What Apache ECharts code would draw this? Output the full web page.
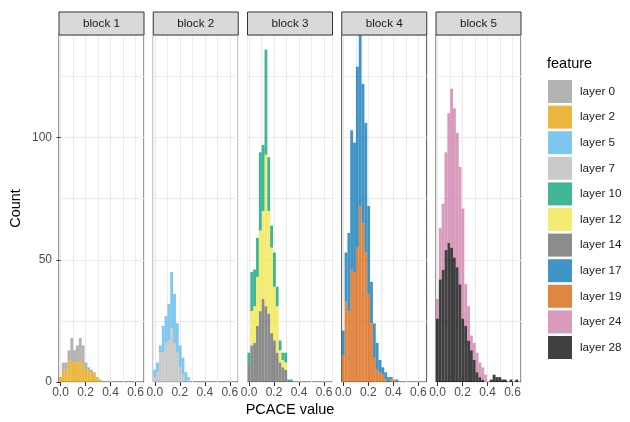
<!DOCTYPE html>
<html>
<head>
<meta charset="utf-8">
<script src="https://cdn.jsdelivr.net/npm/echarts@6/dist/echarts.min.js"></script>
<style>
  html, body { margin: 0; padding: 0; background: #fff; }
  #chart { width: 630px; height: 422px; }
</style>
</head>
<body>
<div id="chart"></div>
<script>
// 30 equal bins across the x range (same bins in every block)
const binCount = 30;
const xMin = -0.012, xMax = 0.668;
const yMax = 142;
const xTicks = [0, 0.2, 0.4, 0.6];
const yTicks = [0, 50, 100];
const blockNames = ['block 1', 'block 2', 'block 3', 'block 4', 'block 5'];

// counts per bin (bars are stacked)
const layer0  = [0, 3, 3, 4, 9, 5, 7, 9, 8, 3, 1, 1, 1, 0, 0];
const layer2  = [2, 5, 5, 9, 9, 8, 8, 9, 7, 5, 5, 4, 3, 2, 1];
const layer5  = [3, 4, 3, 11, 11, 15, 23, 20, 12, 9, 7, 4, 1];
const layer7  = [2, 4, 12, 12, 16, 17, 22, 16, 12, 6, 3, 0, 1];
const layer10 = [4, 16, 15, 16, 32, 27, 43, 22, 9, 14, 8, 4, 3, 4, 0, 1];
const layer12 = [0, 14, 15, 20, 33, 36, 62, 42, 35, 22, 19, 5, 3, 3, 0, 0];
const layer14 = [8, 15, 16, 23, 29, 34, 31, 28, 20, 17, 12, 8, 6, 5, 1, 0];
const layer17 = [10, 20, 32, 57, 53, 74, 70, 57, 53, 36, 17, 14, 11, 5, 3, 3, 2, 1, 0, 1];
const layer19 = [11, 33, 29, 46, 45, 55, 72, 65, 53, 36, 24, 10, 5, 4, 3, 1, 0, 1, 1, 0];
const layer24 = [8, 21, 27, 40, 53, 65, 61, 55, 48, 45, 17, 14, 6, 7, 8, 6, 5, 3];
const layer28 = [26, 42, 46, 54, 57, 55, 51, 47, 40, 26, 23, 17, 13, 9, 4, 2, 1, 0, 0, 1, 3, 2, 2, 1, 1, 0, 1, 0, 1, 0];

// which layers go in which block, bottom of stack first
const blockLayers = [
  [['layer 2', layer2], ['layer 0', layer0]],
  [['layer 7', layer7], ['layer 5', layer5]],
  [['layer 14', layer14], ['layer 12', layer12], ['layer 10', layer10]],
  [['layer 19', layer19], ['layer 17', layer17]],
  [['layer 28', layer28], ['layer 24', layer24]]
];
const legendOrder = ['layer 0', 'layer 2', 'layer 5', 'layer 7', 'layer 10', 'layer 12',
  'layer 14', 'layer 17', 'layer 19', 'layer 24', 'layer 28'];
const colors = {
  'layer 0': 'rgba(153,153,153,0.75)',
  'layer 2': 'rgba(230,159,0,0.75)',
  'layer 5': 'rgba(86,180,233,0.75)',
  'layer 7': 'rgba(184,184,184,0.75)',
  'layer 10': 'rgba(0,158,115,0.75)',
  'layer 12': 'rgba(240,228,66,0.75)',
  'layer 14': 'rgba(102,102,102,0.75)',
  'layer 17': 'rgba(0,114,178,0.75)',
  'layer 19': 'rgba(213,94,0,0.75)',
  'layer 24': 'rgba(204,121,167,0.75)',
  'layer 28': 'rgba(0,0,0,0.75)'
};

// panel layout
const panelLeft = [59, 153.25, 247.5, 341.75, 436];
const panelWidth = 85, panelTop = 35, panelHeight = 347;
const stripHeight = 23;
const font = 'Liberation Sans, Arial, sans-serif';

const bins = Array.from({length: binCount}, (_, i) => i);
const pad = arr => bins.map(i => (arr[i] === undefined ? 0 : arr[i]));

const grid = [], xAxis = [], yAxis = [], series = [], graphic = [];

blockNames.forEach((name, i) => {
  grid.push({
    left: panelLeft[i], top: panelTop, width: panelWidth, height: panelHeight,
    show: true, backgroundColor: '#fff', borderColor: '#333', borderWidth: 1
  });
  // bars
  xAxis.push({type: 'category', gridIndex: i, position: 'bottom', data: bins, show: false});
  // grid lines
  xAxis.push({
    type: 'value', gridIndex: i, position: 'bottom', min: xMin, max: xMax, splitNumber: 7,
    axisLine: {show: false}, axisTick: {show: false}, axisLabel: {show: false},
    splitLine: {show: true, lineStyle: {color: '#EBEBEB', width: 1}}
  });
  // ticks + labels
  xAxis.push({
    type: 'value', gridIndex: i, position: 'bottom', min: xMin, max: xMax,
    axisLine: {show: false},
    axisTick: {show: true, customValues: xTicks, length: 4, lineStyle: {color: '#333'}},
    axisLabel: {customValues: xTicks, formatter: v => v.toFixed(1), color: '#4D4D4D',
      fontSize: 12, fontFamily: font, margin: 5},
    splitLine: {show: false}
  });
  yAxis.push({
    type: 'value', gridIndex: i, position: 'left', min: 0, max: yMax, interval: 25,
    axisLine: {show: false}, axisTick: {show: false}, axisLabel: {show: false},
    splitLine: {show: true, lineStyle: {color: '#EBEBEB', width: 1}}
  });
  yAxis.push({
    type: 'value', gridIndex: i, position: 'left', min: 0, max: yMax, show: i === 0,
    axisLine: {show: false},
    axisTick: {show: true, customValues: yTicks, length: 4, lineStyle: {color: '#333'}},
    axisLabel: {customValues: yTicks, color: '#4D4D4D', fontSize: 12, fontFamily: font, margin: 7},
    splitLine: {show: false}
  });

  blockLayers[i].forEach(([layerName, counts]) => {
    series.push({
      type: 'bar', name: layerName,
      xAxisIndex: 3 * i, yAxisIndex: 2 * i,
      stack: 'block' + i, data: pad(counts),
      barCategoryGap: '0%',
      itemStyle: {color: colors[layerName]},
      emphasis: {disabled: true},
      z: 3
    });
  });

  // facet strip
  graphic.push({
    type: 'rect', z: 10,
    shape: {x: panelLeft[i], y: panelTop - stripHeight, width: panelWidth, height: stripHeight},
    style: {fill: '#D9D9D9', stroke: '#333', lineWidth: 1}
  });
  graphic.push({
    type: 'text', z: 11,
    x: panelLeft[i] + panelWidth / 2, y: panelTop - stripHeight / 2,
    style: {text: name, fill: '#1A1A1A', font: '11.7px ' + font, align: 'center', verticalAlign: 'middle'}
  });
});

// axis titles and legend title
graphic.push({
  type: 'text', x: 16, y: panelTop + panelHeight / 2, rotation: Math.PI / 2,
  style: {text: 'Count', fill: '#000', font: '14.5px ' + font, align: 'center', verticalAlign: 'middle'}
});
graphic.push({
  type: 'text', x: (panelLeft[0] + panelLeft[4] + panelWidth) / 2, y: 410,
  style: {text: 'PCACE value', fill: '#000', font: '14.5px ' + font, align: 'center', verticalAlign: 'middle'}
});
graphic.push({
  type: 'text', x: 547, y: 64,
  style: {text: 'feature', fill: '#000', font: '14.5px ' + font, align: 'left', verticalAlign: 'middle'}
});

const chart = echarts.init(document.getElementById('chart'));
chart.setOption({
  animation: false,
  backgroundColor: '#fff',
  grid, xAxis, yAxis, series, graphic,
  legend: {
    data: legendOrder,
    orient: 'vertical', left: 548, top: 80, padding: 0,
    icon: 'rect', itemWidth: 24, itemHeight: 23, itemGap: 2.6,
    selectedMode: false,
    textStyle: {fontSize: 11.7, color: '#1A1A1A', fontFamily: font, padding: [0, 0, 0, 3]}
  }
});
</script>
</body>
</html>
